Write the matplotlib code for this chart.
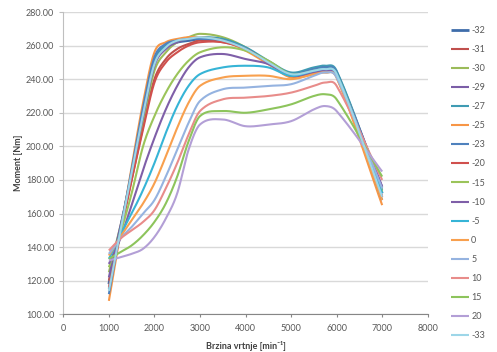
import numpy as np
import matplotlib.pyplot as plt

plt.rcParams['font.family'] = ['Lato', 'DejaVu Sans']

# engine speed points [min^-1]
rpm = [1000, 1250, 1500, 1750, 2000, 2250, 2500, 2750, 3000,
       3500, 4000, 4500, 5000, 5500, 5750, 6000, 7000]

# torque [Nm] per temperature
t_m32 = [118, 150, 183, 220, 250, 259, 262, 263, 264, 263, 258, 250, 243, 246, 247, 244, 172]
t_m31 = [120, 150, 180, 212, 240, 252, 258, 261, 263, 262, 258, 250, 242, 245, 246, 243, 170]
t_m30 = [125, 152, 182, 215, 245, 256, 262, 265, 267, 265, 259, 250, 242, 244, 245, 242, 175]
t_m29 = [122, 152, 184, 218, 248, 258, 262, 264, 265, 263, 258, 250, 243, 246, 246, 243, 176]
t_m27 = [115, 150, 185, 222, 252, 260, 263, 264, 265, 264, 259, 251, 244, 247, 248, 245, 174]
t_m25 = [108, 148, 188, 226, 256, 262, 264, 265, 265, 263, 257, 249, 241, 243, 244, 241, 165]
t_m23 = [112, 149, 186, 223, 253, 261, 263, 264, 264, 263, 258, 250, 243, 246, 247, 244, 168]
t_m20 = [116, 148, 180, 210, 238, 250, 256, 260, 262, 262, 258, 250, 242, 244, 245, 242, 170]
t_m15 = [128, 148, 172, 200, 218, 232, 243, 251, 256, 259, 257, 251, 243, 245, 246, 243, 173]
t_m10 = [130, 145, 165, 186, 205, 222, 236, 247, 253, 255, 252, 249, 242, 244, 245, 242, 176]
t_m5 = [133, 147, 160, 174, 190, 208, 224, 236, 243, 247, 248, 247, 242, 245, 246, 243, 172]
t_0 = [135, 146, 156, 166, 178, 194, 211, 226, 236, 241, 242, 242, 240, 243, 244, 241, 168]
t_5 = [136, 145, 152, 160, 168, 182, 198, 214, 227, 234, 235, 236, 237, 242, 244, 241, 175]
t_10 = [138, 145, 150, 155, 162, 175, 190, 207, 221, 228, 229, 230, 232, 236, 238, 236, 180]
t_15 = [133, 137, 141, 147, 155, 166, 182, 203, 218, 221, 220, 222, 225, 230, 231, 228, 182]
t_20 = [132, 134, 136, 139, 146, 157, 172, 198, 213, 216, 212, 213, 215, 222, 224, 221, 185]
t_m33 = [114, 149, 184, 219, 249, 259, 263, 264, 265, 263, 258, 250, 243, 245, 246, 243, 170]

series = [t_m32, t_m31, t_m30, t_m29, t_m27, t_m25, t_m23, t_m20, t_m15,
          t_m10, t_m5, t_0, t_5, t_10, t_15, t_20, t_m33]
labels = ['-32', '-31', '-30', '-29', '-27', '-25', '-23', '-20', '-15',
          '-10', '-5', '0', '5', '10', '15', '20', '-33']
colors = ['#3E6DAA', '#C0504D', '#9BBB59', '#7B5EA7', '#3F9BB3', '#F79646',
          '#4F81BD', '#D0504D', '#9BC45A', '#7F5FA8', '#36B4D6', '#F8A04E',
          '#95B3E0', '#E88C8A', '#8DC45C', '#B39FD6', '#9DD6E8']


def smooth(xs, ys, n=25):
    # cubic hermite through the points, like Excel's smoothed line
    xs = np.asarray(xs, float)
    ys = np.asarray(ys, float)
    m = np.empty_like(ys)
    m[1:-1] = (ys[2:] - ys[:-2]) / (xs[2:] - xs[:-2])
    m[0] = (ys[1] - ys[0]) / (xs[1] - xs[0])
    m[-1] = (ys[-1] - ys[-2]) / (xs[-1] - xs[-2])
    out_x, out_y = [], []
    for i in range(len(xs) - 1):
        h = xs[i + 1] - xs[i]
        t = np.linspace(0, 1, n, endpoint=(i == len(xs) - 2))
        h00 = 2 * t**3 - 3 * t**2 + 1
        h10 = t**3 - 2 * t**2 + t
        h01 = -2 * t**3 + 3 * t**2
        h11 = t**3 - t**2
        out_x.append(xs[i] + t * h)
        out_y.append(h00 * ys[i] + h10 * h * m[i] + h01 * ys[i + 1] + h11 * h * m[i + 1])
    return np.concatenate(out_x), np.concatenate(out_y)


fig = plt.figure(figsize=(4.97, 3.52), dpi=100)
ax = fig.add_axes([0.1274, 0.1071, 0.7332, 0.8588])

for vals, lab, col in zip(series, labels, colors):
    sx, sy = smooth(rpm, vals)
    lw = 2.0 if lab == '-32' else 1.5
    ax.plot(sx, sy, color=col, lw=lw, label=lab, solid_capstyle='butt')

ax.set_xlim(0, 8000)
ax.set_ylim(100, 280)
ax.set_xticks(np.arange(0, 8001, 1000))
ax.set_yticks(np.arange(100, 281, 20))
ax.set_yticklabels([f"{v:.2f}" for v in np.arange(100, 281, 20)])
ax.grid(axis='y', color='#D9D9D9', lw=1.0)
ax.set_axisbelow(True)

for s in ['top', 'right']:
    ax.spines[s].set_visible(False)
ax.spines['left'].set_color('#BFBFBF')
ax.spines['bottom'].set_color('#868686')
ax.tick_params(axis='both', labelsize=6.5, colors='#595959', length=3, width=0.8)
ax.tick_params(axis='y', colors='#BFBFBF', labelcolor='#595959')
ax.tick_params(axis='x', colors='#868686', labelcolor='#595959', length=2, pad=5)

ax.set_xlabel('Brzina vrtnje [min⁻¹]', fontsize=6.5, fontweight='bold', color='#404040', labelpad=6)
ax.set_ylabel('Moment [Nm]', fontsize=6.5, fontweight='bold', color='#404040', labelpad=2)

leg = fig.legend(loc='upper left', bbox_to_anchor=(0.908, 0.927), frameon=False,
                 fontsize=6.5, handlelength=2.0, handletextpad=0.2,
                 labelspacing=1.12, borderpad=0, borderaxespad=0)
for t in leg.get_texts():
    t.set_color('#595959')

fig.savefig('out.png', dpi=100)
